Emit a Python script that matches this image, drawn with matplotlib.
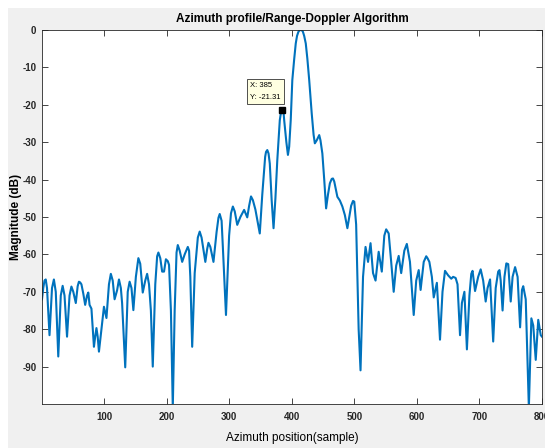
import matplotlib
matplotlib.use('Agg')
import matplotlib.pyplot as plt
from matplotlib.patches import Rectangle

# Azimuth profile values (sample index, dB)
sample = [1, 3, 5, 7, 9, 13, 17, 20, 23, 27, 31, 34, 37, 41, 45, 48, 51, 55, 58, 60, 62, 64,
          67, 70, 73, 75, 77, 80, 84, 86, 88, 90, 92, 96, 100, 104, 108, 111, 114, 117, 121,
          124, 127, 129, 134, 138, 141, 144, 147, 151, 155, 158, 162, 166, 169, 172, 175,
          178, 182, 185, 187, 190, 193, 196, 199, 202, 204, 207, 210, 213, 216, 218, 221,
          225, 229, 234, 236, 238, 241, 245, 250, 253, 256, 262, 265, 267, 270, 275, 280,
          283, 285, 288, 290, 295, 300, 303, 306, 309, 313, 318, 324, 329, 332, 335, 338,
          342, 349, 353, 357.6, 359, 361, 363, 365, 368, 371, 374, 377, 381, 383, 385, 387,
          388, 391.5, 394, 396, 398.5, 401, 404, 406.5, 408.5, 410.7, 412.5, 414.5, 416.5,
          418, 420, 422.5, 425, 428, 432, 435, 437, 440, 444, 446, 449, 452, 455, 458, 461,
          464, 466, 468, 473, 477, 481, 485, 489, 492, 495, 498, 500, 503, 507, 510, 514,
          518, 522, 526, 530, 534, 539, 544, 548, 551, 555, 559, 563, 567, 571, 575, 580,
          584, 589, 595, 599, 603, 606, 611, 615, 617, 620, 624, 627, 632, 637, 641, 645,
          650, 655, 658, 662, 665, 669, 672, 676, 680, 684, 687, 689, 693, 698, 702, 706,
          710, 713, 717, 722, 726, 730, 732, 734, 737, 740, 743, 746, 750, 753, 757, 761,
          765, 768, 770, 774, 779, 783, 786, 790, 794, 798, 800]
magnitude = [-72, -69, -67, -66.7, -69, -81.6, -69, -66.7, -70, -87.3, -71, -68.4, -71,
             -82, -71, -68.6, -70, -73, -68.5, -67.3, -67.5, -68, -70.5, -73.5, -71, -70.2,
             -73.5, -74.5, -84.7, -82, -79.7, -82, -86, -80, -74, -77, -68, -65.2, -67,
             -72, -69.6, -66.7, -69, -73, -90.2, -70, -67.3, -69, -74.9, -66, -61, -62.5,
             -70.2, -67, -65.2, -68, -75, -90, -68, -60.5, -59.5, -61, -64.6, -64.6, -61.3,
             -61.8, -62.8, -75, -101, -75, -59.5, -57.5, -59, -62, -60, -58, -59, -66,
             -84.7, -65, -55.5, -53.9, -55.5, -62, -58.5, -56.9, -58, -62, -54, -50.2,
             -49.2, -51, -58, -76.2, -55, -49, -47.2, -48.5, -52.1, -50, -48.1, -50.1, -47,
             -44.5, -45.5, -48, -54.4, -44, -33.9, -32.6, -32.1, -33, -35.7, -45.5, -53,
             -45, -34.8, -24.1, -21.9, -21.31, -22, -24.1, -30, -33.4, -31.2, -24, -13.4,
             -7.8, -3.6, -1.6, -0.5, -0.1, 0, -0.1, -0.5, -1.6, -3.6, -7.6, -13.4, -22.3,
             -28, -30.3, -29.5, -28.1, -29.5, -33, -40, -47.7, -44, -41, -39.8, -39.7,
             -40.5, -44.6, -45.6, -47.2, -49.5, -53, -50, -47, -45.7, -45.9, -52, -80, -91,
             -66, -58, -62, -57, -65, -67, -59.3, -64.6, -55, -53.3, -54.4, -62, -70, -63,
             -60.4, -65, -59, -57.2, -62, -76.2, -67, -64.2, -69.5, -62, -60.5, -61, -62,
             -66, -71.5, -67.6, -82.8, -70, -64.4, -65.6, -66.5, -66, -66.3, -68, -81.6,
             -73, -70, -85.4, -71, -65.2, -64.4, -69.8, -66, -64, -67, -72.6, -69, -66.7,
             -83.3, -69, -64.6, -64.2, -67, -75, -66, -62.4, -62.6, -72.6, -66, -63.4, -66,
             -79.5, -69.5, -68.5, -72, -101, -77.1, -79, -88.2, -77.5, -81.6, -82]

tip_x = 385
tip_y = -21.31

xticks = [100, 200, 300, 400, 500, 600, 700, 800]
yticks = [-90, -80, -70, -60, -50, -40, -30, -20, -10, 0]

narrow = ['Liberation Sans Narrow', 'Liberation Sans', 'DejaVu Sans']
plt.rcParams['axes.unicode_minus'] = False

fig = plt.figure(figsize=(5.45, 4.48), dpi=100)
fig.patch.set_facecolor('white')
fig.patches.append(Rectangle((8 / 545, 0), 1 - 8 / 545, 1 - 8 / 448,
                             transform=fig.transFigure, facecolor='#f0f0f0',
                             edgecolor='none', zorder=-10))

ax = fig.add_axes([42 / 545, 1 - 404 / 448, 500 / 545, 374 / 448])
ax.plot(sample, magnitude, color='#0072BD', linewidth=1.5)
ax.set_xlim(1, 800)
ax.set_ylim(-100, 0)
ax.set_xticks(xticks)
ax.set_yticks(yticks)

# Datatip
ax.plot([tip_x], [tip_y], marker='s', color='black', markersize=4.5, zorder=5)
ax.annotate(f'X: {tip_x}\nY: {tip_y}', xy=(tip_x, tip_y), xytext=(-1, 6),
            textcoords='offset points', ha='right', va='bottom',
            multialignment='left', fontsize=5.5, family=narrow, linespacing=2.1,
            bbox=dict(boxstyle='square,pad=0.4', facecolor='#ffffe1',
                      edgecolor='#333333', linewidth=0.6), zorder=6)

# MATLAB-like axes look
for s in ax.spines.values():
    s.set_color('#262626')
    s.set_linewidth(0.6)
ax.tick_params(direction='in', top=True, right=True, length=4, width=0.6,
               color='#262626', pad=4)
ax.tick_params(axis='x', pad=6)
for lbl in ax.get_xticklabels() + ax.get_yticklabels():
    lbl.set_fontfamily(narrow)
    lbl.set_fontweight('bold')
    lbl.set_fontsize(7)
    lbl.set_color('#262626')

ax.set_title('Azimuth profile/Range-Doppler Algorithm', fontsize=8.5,
             fontweight='bold', family=narrow, pad=6)
ax.set_xlabel('Azimuth position(sample)', fontsize=8.5, family=narrow,
              labelpad=7)
ax.set_ylabel('Magnitude (dB)', fontsize=8.5, fontweight='bold',
              family=['Liberation Sans', 'DejaVu Sans'])
ax.yaxis.set_label_coords(-0.041, 0.5)

plt.savefig('out.png', dpi=100)
plt.close()
